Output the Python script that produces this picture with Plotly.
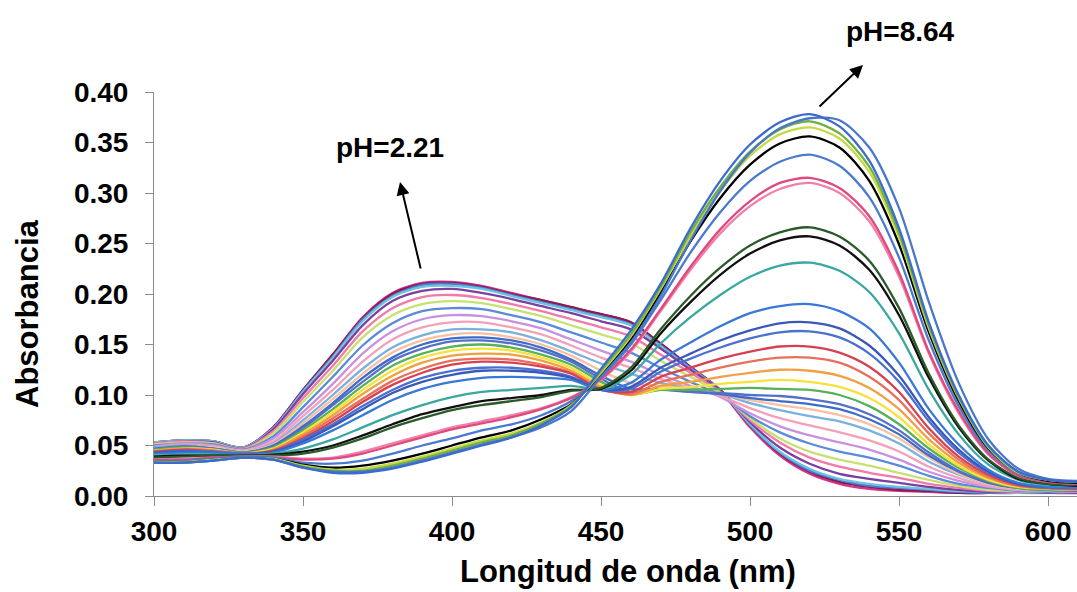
import plotly.graph_objects as go

# Wavelength grid (nm)
wavelength = [300, 310, 320, 330, 340, 350, 360, 370, 380, 390, 400, 410, 420, 430, 440, 450,
              460, 470, 480, 490, 500, 510, 520, 530, 540, 550, 560, 570, 580, 590, 600, 610]

# Absorbance spectra, from pH 2.21 (abs_01) up to pH 8.64 (abs_33)
abs_01 = [.053,.055,.054,.048,.068,.105,.140,.177,.201,.211,.212,.208,.201,.194,.187,.180,.172,.150,.127,.104,.068,.040,.022,.012,.007,.005,.004,.003,.003,.003,.003,.003]
abs_02 = [.053,.055,.054,.048,.068,.105,.140,.176,.200,.210,.211,.207,.200,.194,.187,.180,.172,.151,.128,.105,.070,.042,.024,.014,.009,.006,.005,.003,.003,.003,.003,.003]
abs_03 = [.053,.055,.054,.048,.067,.104,.138,.175,.198,.209,.210,.206,.199,.192,.185,.178,.170,.149,.127,.105,.070,.043,.025,.016,.010,.008,.006,.004,.003,.003,.003,.003]
abs_04 = [.053,.055,.054,.048,.067,.103,.137,.173,.197,.207,.208,.205,.198,.191,.184,.177,.169,.148,.126,.105,.071,.044,.027,.017,.012,.009,.007,.005,.004,.003,.003,.003]
abs_05 = [.052,.054,.053,.047,.066,.101,.134,.169,.193,.203,.205,.201,.195,.188,.181,.173,.165,.146,.125,.105,.073,.048,.032,.022,.017,.013,.009,.006,.004,.004,.003,.003]
abs_06 = [.052,.054,.052,.047,.064,.097,.129,.163,.186,.197,.199,.196,.190,.183,.175,.167,.158,.140,.122,.103,.075,.053,.038,.029,.023,.018,.012,.008,.005,.004,.004,.004]
abs_07 = [.051,.053,.052,.046,.062,.093,.124,.157,.179,.190,.193,.191,.185,.178,.169,.160,.151,.134,.118,.102,.077,.057,.044,.036,.030,.023,.016,.010,.006,.005,.004,.004]
abs_08 = [.050,.052,.051,.046,.059,.088,.118,.149,.171,.183,.186,.185,.179,.172,.162,.152,.142,.127,.113,.100,.079,.063,.052,.044,.038,.030,.020,.012,.008,.005,.004,.004]
abs_09 = [.049,.052,.050,.045,.057,.083,.111,.141,.163,.175,.179,.178,.173,.166,.155,.144,.133,.120,.109,.098,.082,.069,.060,.053,.046,.036,.024,.015,.009,.006,.005,.004]
abs_10 = [.048,.051,.049,.045,.054,.079,.105,.133,.155,.167,.172,.172,.167,.160,.149,.137,.127,.116,.107,.099,.087,.077,.070,.063,.055,.044,.029,.018,.010,.006,.005,.005]
abs_11 = [.048,.050,.048,.044,.052,.075,.100,.126,.147,.159,.165,.165,.162,.154,.143,.131,.121,.112,.106,.101,.092,.085,.079,.074,.065,.052,.034,.021,.012,.007,.005,.005]
abs_12 = [.047,.049,.048,.044,.051,.072,.096,.121,.142,.154,.160,.161,.157,.150,.139,.124,.112,.109,.105,.101,.095,.090,.086,.080,.071,.057,.038,.022,.012,.007,.006,.005]
abs_13 = [.047,.049,.047,.043,.050,.069,.092,.117,.137,.150,.156,.157,.154,.147,.135,.119,.106,.106,.103,.101,.097,.094,.091,.086,.076,.061,.040,.024,.013,.008,.006,.005]
abs_14 = [.046,.049,.047,.043,.049,.067,.090,.113,.134,.146,.153,.154,.151,.144,.133,.116,.103,.105,.103,.102,.100,.099,.096,.091,.081,.065,.043,.025,.014,.008,.006,.006]
abs_15 = [.046,.048,.046,.043,.048,.065,.086,.109,.129,.141,.148,.150,.147,.140,.130,.113,.101,.105,.105,.106,.107,.106,.105,.100,.089,.071,.047,.028,.015,.008,.006,.006]
abs_16 = [.045,.047,.046,.042,.047,.063,.083,.105,.124,.137,.144,.146,.144,.137,.127,.110,.100,.106,.108,.111,.113,.115,.113,.108,.097,.078,.051,.030,.016,.009,.007,.006]
abs_17 = [.045,.047,.045,.042,.046,.061,.080,.101,.119,.132,.139,.141,.140,.134,.124,.108,.100,.109,.113,.118,.122,.125,.124,.119,.107,.086,.056,.033,.018,.010,.007,.006]
abs_18 = [.044,.046,.045,.042,.045,.059,.077,.096,.114,.126,.134,.136,.135,.130,.122,.106,.101,.113,.120,.127,.133,.137,.137,.132,.118,.095,.062,.036,.019,.010,.008,.007]
abs_19 = [.044,.046,.044,.042,.045,.057,.074,.093,.110,.122,.130,.133,.132,.128,.121,.105,.103,.118,.127,.136,.143,.148,.148,.142,.128,.103,.067,.039,.021,.011,.008,.007]
abs_20 = [.043,.045,.044,.042,.044,.056,.071,.089,.105,.117,.124,.127,.127,.124,.118,.105,.106,.123,.136,.147,.156,.162,.163,.157,.141,.113,.074,.043,.023,.012,.008,.008]
abs_21 = [.043,.044,.043,.041,.044,.054,.069,.086,.102,.113,.120,.124,.124,.122,.117,.105,.108,.127,.141,.154,.164,.171,.172,.166,.149,.119,.078,.046,.024,.012,.009,.008]
abs_22 = [.042,.043,.043,.041,.043,.052,.065,.080,.095,.106,.113,.117,.118,.117,.115,.105,.112,.135,.152,.168,.181,.188,.190,.183,.166,.132,.086,.051,.026,.013,.009,.008]
abs_23 = [.040,.041,.041,.040,.042,.047,.056,.068,.080,.090,.098,.103,.105,.107,.109,.106,.120,.151,.177,.199,.217,.228,.231,.223,.202,.161,.105,.061,.031,.016,.011,.010]
abs_24 = [.039,.040,.040,.040,.041,.044,.050,.060,.071,.081,.088,.094,.097,.100,.105,.106,.124,.161,.192,.219,.240,.253,.257,.248,.224,.179,.117,.068,.035,.017,.012,.010]
abs_25 = [.038,.039,.040,.040,.040,.042,.048,.057,.068,.077,.085,.090,.094,.098,.104,.107,.127,.165,.198,.226,.248,.261,.266,.257,.233,.186,.121,.070,.036,.018,.012,.011]
abs_26 = [.036,.037,.038,.039,.039,.037,.038,.044,.052,.060,.068,.074,.080,.087,.098,.115,.143,.183,.224,.260,.287,.304,.310,.300,.272,.217,.141,.082,.041,.020,.014,.012]
abs_27 = [.036,.036,.038,.039,.038,.036,.037,.042,.050,.058,.066,.072,.078,.086,.097,.116,.145,.185,.227,.264,.292,.310,.315,.305,.277,.221,.143,.084,.042,.020,.014,.012]
abs_28 = [.035,.035,.037,.039,.038,.033,.032,.035,.042,.050,.057,.065,.071,.080,.094,.118,.150,.194,.241,.281,.312,.331,.338,.327,.296,.236,.154,.089,.045,.022,.015,.013]
abs_29 = [.034,.034,.036,.038,.037,.031,.028,.030,.035,.042,.050,.058,.065,.076,.091,.120,.155,.201,.252,.295,.328,.349,.356,.345,.312,.249,.162,.094,.047,.023,.015,.013]
abs_30 = [.034,.034,.036,.038,.037,.030,.026,.027,.032,.039,.047,.055,.062,.073,.090,.122,.158,.205,.257,.302,.337,.358,.365,.354,.321,.256,.166,.097,.048,.023,.016,.014]
abs_31 = [.033,.033,.035,.038,.036,.029,.025,.025,.030,.037,.045,.053,.060,.072,.089,.124,.160,.207,.261,.306,.341,.363,.371,.359,.326,.260,.169,.098,.049,.024,.016,.014]
abs_32 = [.033,.033,.035,.038,.036,.028,.024,.024,.028,.035,.043,.051,.058,.068,.084,.118,.152,.198,.253,.302,.340,.364,.374,.372,.345,.285,.192,.112,.056,.027,.017,.015]
abs_33 = [.033,.033,.035,.038,.036,.028,.023,.023,.027,.034,.042,.050,.058,.070,.088,.126,.164,.210,.265,.312,.348,.370,.378,.366,.332,.265,.172,.100,.050,.024,.016,.014]

spectra = [abs_01, abs_02, abs_03, abs_04, abs_05, abs_06, abs_07, abs_08, abs_09, abs_10,
           abs_11, abs_12, abs_13, abs_14, abs_15, abs_16, abs_17, abs_18, abs_19, abs_20,
           abs_21, abs_22, abs_23, abs_24, abs_25, abs_26, abs_27, abs_28, abs_29, abs_30,
           abs_31, abs_32, abs_33]

line_colors = ["#d6338a", "#8b1a4a", "#4a7bd0", "#6fc3e0", "#7b3fa0", "#f07aa8", "#c8e070",
               "#5a8ad8", "#c890e0", "#f4a0b8", "#7ab0e0", "#f8c0a0", "#3d6cc8", "#5570c8",
               "#58b058", "#f5e23a", "#f0a040", "#e8705a", "#d84050", "#4a70d0", "#3a58b8",
               "#3a78d8", "#3aa8a0", "#101010", "#2a5a2a", "#f080a8", "#e04880", "#4a7ad0",
               "#000000", "#c8d840", "#70b040", "#4a78c8", "#3d6ad0"]

y_ticks = [0.00, 0.05, 0.10, 0.15, 0.20, 0.25, 0.30, 0.35, 0.40]
x_ticks = [300, 350, 400, 450, 500, 550, 600]

font_family = "Liberation Sans, Arial, sans-serif"

fig = go.Figure()
for values, color in zip(spectra, line_colors):
    fig.add_trace(go.Scatter(
        x=wavelength, y=values, mode="lines",
        line=dict(color=color, width=2.3, shape="spline", smoothing=0.8),
        showlegend=False, hoverinfo="skip",
    ))

axis_gray = "#8c8c8c"
fig.update_xaxes(
    range=[300, 609.7], tickvals=x_ticks, ticktext=[str(v) for v in x_ticks],
    showline=True, linecolor=axis_gray, linewidth=1, mirror=False,
    ticks="outside", ticklen=9, tickcolor=axis_gray, tickwidth=1,
    showgrid=False, zeroline=False, ticklabelstandoff=1,
    tickfont=dict(family=font_family, size=28, color="black", weight="bold"),
)
fig.update_yaxes(
    range=[0, 0.40], tickvals=y_ticks, ticktext=[f"{v:.2f}" for v in y_ticks],
    showline=True, linecolor=axis_gray, linewidth=1,
    ticks="outside", ticklen=8, tickcolor=axis_gray, tickwidth=1,
    showgrid=False, zeroline=False, ticklabelstandoff=11,
    tickfont=dict(family=font_family, size=28, color="black", weight="bold"),
)

label_font = dict(family=font_family, size=28, color="black", weight="bold")
title_font = dict(family=font_family, size=31, color="black", weight="bold")

# plot area in pixels: x from 154 to 1077, y from 92 to 496
def px_x(px):
    return (px - 154) / 923

def px_y(py):
    return (496 - py) / 404

annotations = [
    # pH labels with their arrows
    dict(x=px_x(390), y=px_y(147), xref="paper", yref="paper", text="pH=2.21",
         showarrow=False, font=label_font, xanchor="center", yanchor="middle"),
    dict(x=px_x(400), y=px_y(182), xref="paper", yref="paper", text="", showarrow=True,
         ax=21, ay=88, arrowhead=2, arrowsize=1.3, arrowwidth=2, arrowcolor="black"),
    dict(x=px_x(900), y=px_y(31), xref="paper", yref="paper", text="pH=8.64",
         showarrow=False, font=label_font, xanchor="center", yanchor="middle"),
    dict(x=px_x(863), y=px_y(65), xref="paper", yref="paper", text="", showarrow=True,
         ax=-45, ay=43, arrowhead=2, arrowsize=1.3, arrowwidth=2, arrowcolor="black"),
    # axis titles
    dict(x=px_x(628), y=px_y(571), xref="paper", yref="paper",
         text="Longitud de onda (nm)", showarrow=False, font=title_font,
         xanchor="center", yanchor="middle"),
    dict(x=px_x(27), y=px_y(313), xref="paper", yref="paper",
         text="Absorbancia", showarrow=False, font=title_font, textangle=-90,
         xanchor="center", yanchor="middle"),
]

fig.update_layout(
    width=1077, height=592,
    margin=dict(l=154, r=0, t=92, b=96),
    paper_bgcolor="white", plot_bgcolor="white",
    annotations=annotations,
)

fig.write_html("out.html")
